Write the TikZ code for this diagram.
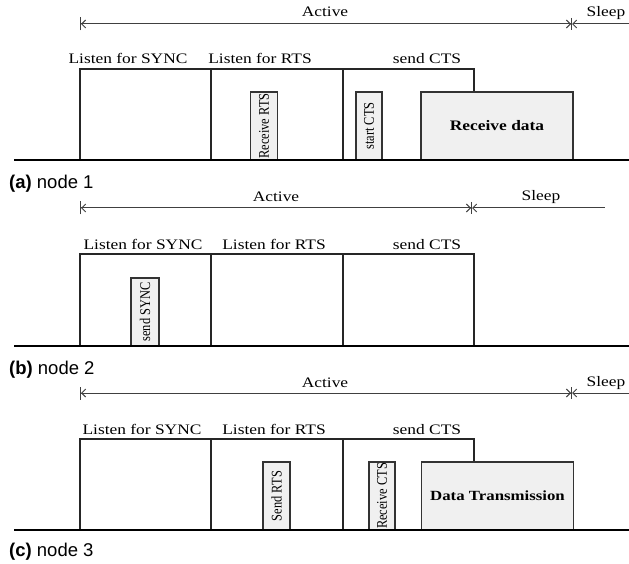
\documentclass[tikz,border=0pt]{standalone}
\usepackage{fontspec}
\setmainfont{Liberation Serif}
\newfontfamily\lbl[FakeStretch=1.2]{Liberation Serif}
\newfontfamily\rot[FakeStretch=0.84]{Liberation Serif}
\newfontfamily\capt{Liberation Sans}
\usetikzlibrary{arrows.meta}
\tikzset{
  lab/.style={font=\lbl\fontsize{14.5}{16}\selectfont, inner sep=0pt, anchor=base},
  frame/.style={draw=black!85, line width=1.2pt},
  sbox/.style={draw=black!80, line width=1.2pt, fill=black!6, rotate=90, minimum width=68pt, minimum height=27pt, inner sep=0pt, font=\rot\fontsize{14.8}{16}\selectfont},
  bbox/.style={draw=black!80, line width=1.2pt, fill=black!6, minimum width=152pt, minimum height=68pt, inner sep=0pt, font=\lbl\fontsize{14.5}{16}\selectfont\bfseries},
  base/.style={line width=2.4pt, black},
  tl/.style={draw=black!75, line width=1pt},
  barleft/.style={{Bar[width=13pt]Straight Barb[length=4pt,width=8pt]}-{Straight Barb[length=4pt,width=8pt]Bar[width=12pt]}},
  sleepln/.style={{Straight Barb[length=4pt,width=8pt]}-},
  captlab/.style={font=\capt\fontsize{18.5}{20}\selectfont, inner sep=0pt, anchor=base west}
}
\begin{document}
\begin{tikzpicture}[x=1pt,y=-1pt]
\useasboundingbox (0,0) rectangle (629,564);
% ---------------- (a) node 1
\coordinate (a1) at (80,24); \coordinate (a2) at (572,24); \coordinate (a3) at (629,24);
\draw[tl,barleft] (a1) -- (a2);
\draw[tl,sleepln] (a2) -- (a3);
\node[lab] (aact) at (325,17) {Active};
\node[lab] (aslp) at (606,17) {Sleep};
\node[lab] (als) at (128,64) {Listen for SYNC};
\node[lab] (alr) at (260,64) {Listen for RTS};
\node[lab] (acts) at (427,64) {send CTS};
\draw[frame] (80,160) -- (80,69) -- (474,69) -- (474,92);
\draw[frame] (211,69) -- (211,160);
\draw[frame] (343,69) -- (343,160);
\node[sbox] (arr) at (264,126) {Receive RTS};
\node[sbox, minimum height=26pt] (asc) at (369,126) {start CTS};
\node[bbox] (ard) at (497,126) {Receive data};
\coordinate (ab1) at (14,160); \coordinate (ab2) at (629,160);
\draw[base] (ab1) -- (ab2);
\node[captlab] (acap) at (9,189) {\textbf{(a)} node 1};
% ---------------- (b) node 2
\coordinate (b1) at (80,208); \coordinate (b2) at (472,208); \coordinate (b3) at (605,208);
\draw[tl,barleft] (b1) -- (b2);
\draw[tl,sleepln] (b2) -- (b3);
\node[lab] (bact) at (276,202) {Active};
\node[lab] (bslp) at (541,201) {Sleep};
\node[lab] (bls) at (143,249) {Listen for SYNC};
\node[lab] (blr) at (274,249) {Listen for RTS};
\node[lab] (bcts) at (427,249) {send CTS};
\draw[frame] (80,346) -- (80,254) -- (474,254) -- (474,346);
\draw[frame] (211,254) -- (211,346);
\draw[frame] (343,254) -- (343,346);
\node[sbox, minimum width=68pt, minimum height=28pt] (bss) at (145,312) {send SYNC};
\coordinate (bb1) at (14,346); \coordinate (bb2) at (629,346);
\draw[base] (bb1) -- (bb2);
\node[captlab] (bcap) at (9,374) {\textbf{(b)} node 2};
% ---------------- (c) node 3
\coordinate (c1) at (80,393); \coordinate (c2) at (572,393); \coordinate (c3) at (629,393);
\draw[tl,barleft] (c1) -- (c2);
\draw[tl,sleepln] (c2) -- (c3);
\node[lab] (cact) at (325,387) {Active};
\node[lab] (cslp) at (606,386) {Sleep};
\node[lab] (cls) at (142,434) {Listen for SYNC};
\node[lab] (clr) at (274,434) {Listen for RTS};
\node[lab] (ccts) at (427,434) {send CTS};
\draw[frame] (80,530) -- (80,439) -- (474,439) -- (474,462);
\draw[frame] (211,439) -- (211,530);
\draw[frame] (343,439) -- (343,530);
\node[sbox] (csr) at (276.5,496) {Send RTS};
\node[sbox, minimum height=26pt] (crc) at (382,496) {Receive CTS};
\node[bbox, font=\lbl\fontsize{14}{16}\selectfont\bfseries] (cdt) at (497.5,496) {Data Transmission};
\coordinate (cb1) at (14,530); \coordinate (cb2) at (629,530);
\draw[base] (cb1) -- (cb2);
\node[captlab] (ccap) at (9,556) {\textbf{(c)} node 3};
\end{tikzpicture}
\end{document}
